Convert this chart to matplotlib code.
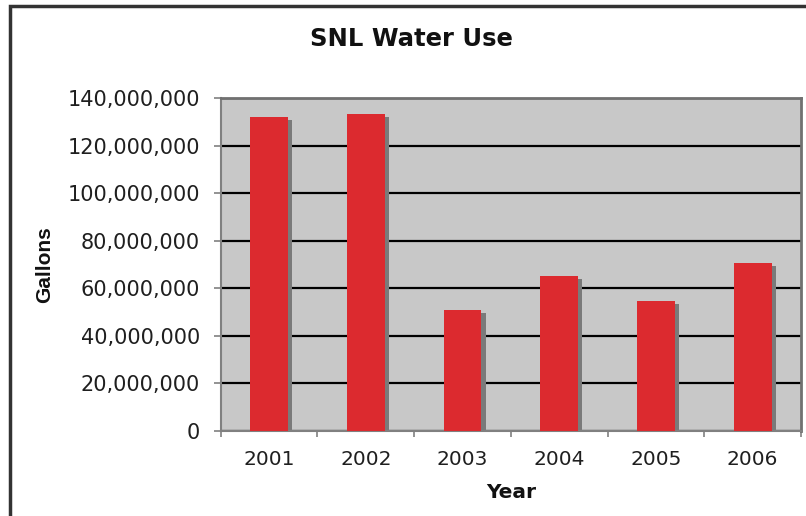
import matplotlib.pyplot as plt
from matplotlib.patches import Rectangle
from matplotlib.ticker import FuncFormatter
import numpy as np

years = ["2001", "2002", "2003", "2004", "2005", "2006"]
gallons = [132_000_000, 133_400_000, 50_900_000, 65_100_000, 54_600_000, 70_600_000]
yticks = [0, 20_000_000, 40_000_000, 60_000_000, 80_000_000, 100_000_000, 120_000_000, 140_000_000]

W, H = 806, 516
fig = plt.figure(figsize=(W / 100, H / 100), dpi=100)
fig.patch.set_facecolor("white")

# plot area placed in pixel terms
left, right, top, bottom = 220.7, 801, 98.3, 431
ax = fig.add_axes([left / W, 1 - bottom / H, (right - left) / W, (bottom - top) / H])
ax.set_facecolor("#c8c8c8")

x = np.arange(len(years))
bw = 0.39
# drop shadow behind each bar
shadow_dx = 0.045
shadow_dy = 1_300_000
ax.bar(x + shadow_dx, np.array(gallons) - shadow_dy, width=bw, color="#7a7a7a", zorder=2)
ax.bar(x, gallons, width=bw, color="#dc2a2f", zorder=3)

ax.set_xlim(-0.5, len(years) - 0.5)
ax.set_ylim(0, 140_000_000)
ax.set_yticks(yticks)
ax.yaxis.set_major_formatter(FuncFormatter(lambda v, p: f"{int(v):,}"))
ax.set_xticks(np.arange(len(years) + 1) - 0.5, minor=False)
ax.set_xticklabels([""] * (len(years) + 1))
ax.set_xticks(x, minor=True)
ax.set_xticklabels(years, minor=True)

ax.grid(axis="y", color="black", linewidth=1.6, zorder=1)
ax.set_axisbelow(True)

for s in ["left", "bottom"]:
    ax.spines[s].set_color("#808080")
    ax.spines[s].set_linewidth(1.5)
for s in ["top", "right"]:
    ax.spines[s].set_color("#707070")
    ax.spines[s].set_linewidth(2)

ax.tick_params(axis="y", which="major", length=5, width=1.2, color="#808080",
               labelsize=15, labelcolor="#1f1f1f", pad=10)
ax.tick_params(axis="x", which="major", length=4, width=1.2, color="#808080", direction="out")
ax.tick_params(axis="x", which="minor", length=0, labelsize=14.5, labelcolor="#1f1f1f", pad=14)

fig.text(411 / W, 1 - 39 / H, "SNL Water Use", ha="center", va="center",
         fontsize=17.5, fontweight="bold", color="#111111")
fig.text(44.5 / W, 1 - 264.5 / H, "Gallons", ha="center", va="center", rotation=90,
         fontsize=15, fontweight="bold", family="Liberation Sans", color="#111111")
fig.text(511 / W, 1 - 492 / H, "Year", ha="center", va="center",
         fontsize=14.5, fontweight="bold", color="#111111")

# outer chart border (cut off at right and bottom)
fig.patches.append(Rectangle((10 / W, -0.05), 1.1, 1 - 6 / H + 0.05, transform=fig.transFigure,
                             fill=False, edgecolor="#333333", linewidth=2.5))

fig.savefig("out.png", dpi=100)
